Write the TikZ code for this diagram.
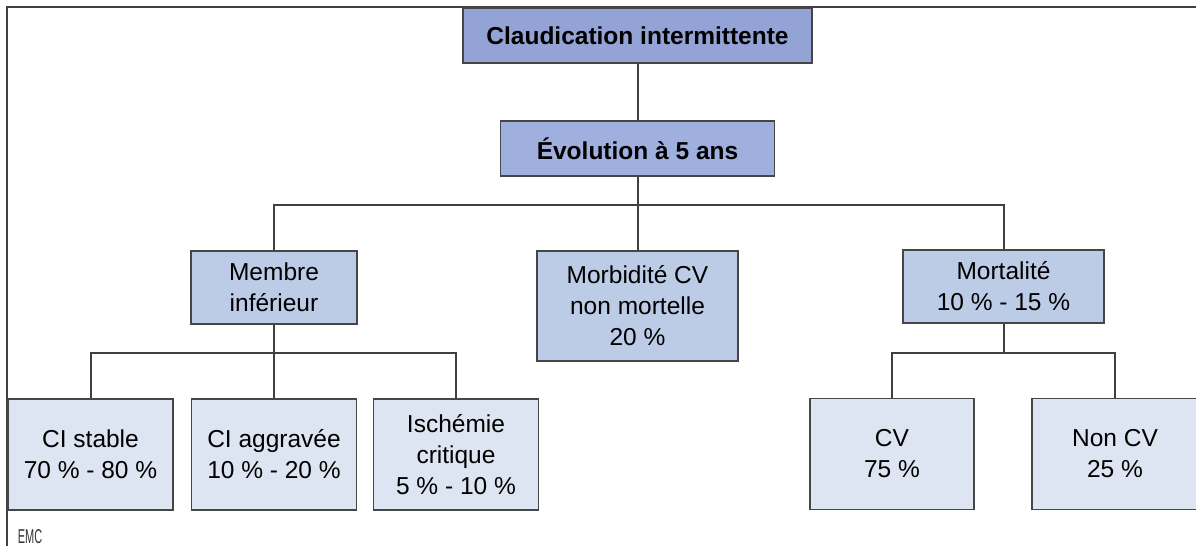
\documentclass[tikz,border=0pt]{standalone}
\usepackage{fontspec}
\setmainfont{Liberation Sans}
\usetikzlibrary{positioning}

\definecolor{rootfill}{RGB}{148,163,214}
\definecolor{evofill}{RGB}{160,176,222}
\definecolor{midfill}{RGB}{188,203,230}
\definecolor{leaffill}{RGB}{221,229,242}
\definecolor{edgegray}{RGB}{70,70,70}

\begin{document}
\begin{tikzpicture}[
				x=1pt, y=1pt,
				node distance = 100pt,
				font=\fontsize{24.5}{31}\selectfont,
				topbox/.style={
					rectangle,
					draw=edgegray,
					line width=1.8pt,
					fill=rootfill,
					font=\fontsize{24.5}{31}\selectfont\bfseries,
					minimum height=55pt,
					inner sep=0pt
					},
				midbox/.style={
					rectangle,
					draw=edgegray,
					line width=1.8pt,
					fill=midfill,
					align=center,
					minimum width=166pt,
					minimum height=73pt,
					inner sep=0pt
					},
				leafbox/.style={
					rectangle,
					draw=edgegray,
					line width=1.8pt,
					fill=leaffill,
					align=center,
					minimum width=165pt,
					minimum height=111pt,
					inner sep=0pt
					},
				line/.style={
					draw=black!75,
					line width=2pt
					}]
			    \useasboundingbox (0,0) rectangle (1196,-546);
			    % Frame
			    \draw [line width=2.4pt, black!75] (1196,-7) -- (7,-7) -- (7,-546);

			    % Place nodes
			    \node [topbox, minimum width=349pt] (root) at (637.5,-35.5) {Claudication intermittente};
			    \node [topbox, fill=evofill, minimum width=274pt, below of=root, node distance=113pt] (evol) {Évolution à 5 ans};
			    \node [midbox, minimum width=201pt, minimum height=110pt, below of=evol, node distance=157.5pt] (morb) {Morbidité CV\\non mortelle\\20 \%};
			    \node [midbox, left of=morb, yshift=18.5pt, node distance=363.5pt] (membre) {Membre\\inférieur};
			    \node [midbox, minimum width=201pt, right of=morb, yshift=19.5pt, node distance=366pt] (mortal) {Mortalité\\10 \% - 15 \%};

			    \node [leafbox, below of=membre, node distance=167pt] (aggr) {CI aggravée\\10 \% - 20 \%};
			    \node [leafbox, left of=aggr, node distance=183.5pt] (stable) {CI stable\\70 \% - 80 \%};
			    \node [leafbox, right of=aggr, node distance=182pt] (isch) {Ischémie\\critique\\5 \% - 10 \%};
			    \node [leafbox, minimum width=164pt, below of=mortal, xshift=-111.5pt, node distance=167.5pt] (cv) {CV\\75 \%};
			    \node [leafbox, minimum width=166pt, right of=cv, node distance=223pt] (noncv) {Non CV\\25 \%};

			    \node [font=\fontsize{20}{20}\selectfont, text=black!80, inner sep=0pt] (emc) at (30,-537) {\scalebox{0.55}[1]{EMC}};

			    % Junctions
			    \coordinate [below of=evol, node distance=56.5pt] (busA);
			    \coordinate [below of=membre, node distance=65.5pt] (busB);
			    \coordinate [below of=mortal, node distance=66.5pt] (busC);

			    % Draw edges
			    \path [line] (root) -- (evol);
			    \path [line] (evol) -- (morb);
			    \path [line] (membre) |- (busA) -| (mortal);
			    \path [line] (membre) -- (aggr);
			    \path [line] (stable) |- (busB) -| (isch);
			    \path [line] (mortal) -- (busC);
			    \path [line] (cv) |- (busC) -| (noncv);
			\end{tikzpicture}
\end{document}
